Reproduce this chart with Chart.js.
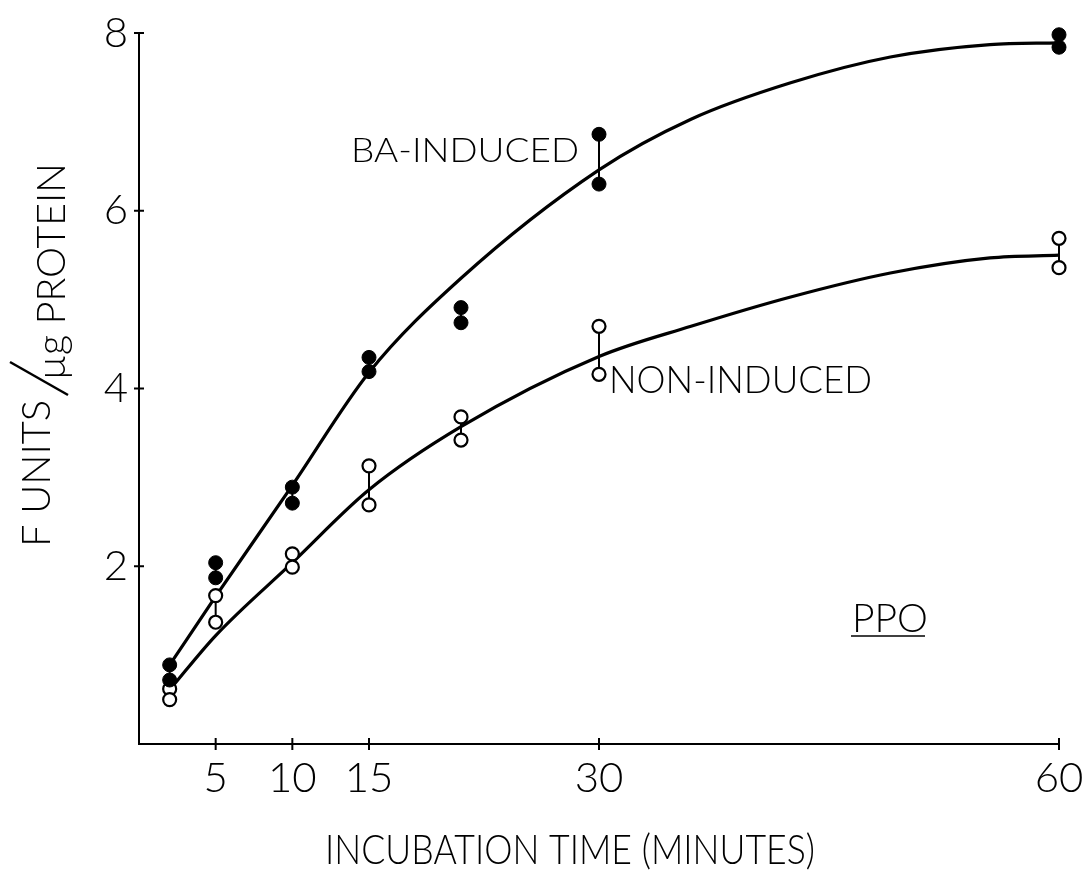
<!DOCTYPE html>
<html>
<head>
<meta charset="utf-8">
<title>PPO activity vs incubation time</title>
<script src="https://cdn.jsdelivr.net/npm/chart.js@4.4.0/dist/chart.umd.min.js"></script>
<style>
  html, body { margin: 0; padding: 0; background: #fff; }
  canvas { display: block; }
</style>
</head>
<body>
<canvas id="c" width="1092" height="877"></canvas>
<script>
// Incubation times (minutes); two replicate readings at each time
const times = [2, 5, 10, 15, 21, 30, 60];
const baHigh  = [0.89, 2.04, 2.89, 4.35, 4.91, 6.86, 7.98];
const baLow   = [0.72, 1.87, 2.71, 4.19, 4.74, 6.30, 7.84];
const nonHigh = [0.62, 1.67, 2.14, 3.13, 3.68, 4.70, 5.69];
const nonLow  = [0.50, 1.37, 1.99, 2.69, 3.42, 4.16, 5.36];

// Hand-fitted trend curves through the replicate pairs
const curveTimes = [2, 5, 10, 15, 21, 30, 36, 42.5, 49, 55.5, 60];
const baCurve    = [0.89, 1.66, 2.91, 4.18, 5.24, 6.46, 7.03, 7.44, 7.73, 7.87, 7.89];
const nonCurve   = [0.61, 1.22, 2.04, 2.86, 3.57, 4.36, 4.70, 5.03, 5.30, 5.47, 5.50];

// Axis tick labels
const xTicks = [5, 10, 15, 30, 60];
const yTicks = [2, 4, 6, 8];

const FONT = 'Lato, "DejaVu Sans", sans-serif';
const INK = '#000';

function pairs(xs, ys) { return xs.map((x, i) => ({ x: x, y: ys[i] })); }

// Draw a text string squeezed/stretched to a given width (lettering-guide look)
function fitText(ctx, text, x, y, width, size) {
  ctx.save();
  ctx.font = '300 ' + size + 'px ' + FONT;
  const m = ctx.measureText(text).width;
  ctx.translate(x, y);
  ctx.scale(width / m, 1);
  ctx.textAlign = 'left';
  ctx.textBaseline = 'alphabetic';
  ctx.fillStyle = INK;
  ctx.fillText(text, 0, 0);
  ctx.restore();
}

// Vertical bars joining each replicate pair, drawn under the markers
const replicateBars = {
  id: 'replicateBars',
  beforeDatasetsDraw(chart) {
    const { ctx, scales: { x, y } } = chart;
    ctx.save();
    ctx.strokeStyle = INK;
    ctx.lineWidth = 2;
    [[baHigh, baLow], [nonHigh, nonLow]].forEach(([hi, lo]) => {
      times.forEach((t, i) => {
        const px = x.getPixelForValue(t);
        ctx.beginPath();
        ctx.moveTo(px, y.getPixelForValue(hi[i]));
        ctx.lineTo(px, y.getPixelForValue(lo[i]));
        ctx.stroke();
      });
    });
    ctx.restore();
  }
};

// Cross-style tick marks, axis titles and in-plot labels
const decorations = {
  id: 'decorations',
  afterDraw(chart) {
    const { ctx, chartArea: a, scales: { x, y } } = chart;
    ctx.save();
    ctx.strokeStyle = INK;
    ctx.lineWidth = 2;
    yTicks.forEach(v => {
      const py = y.getPixelForValue(v);
      ctx.beginPath(); ctx.moveTo(a.left - 5, py); ctx.lineTo(a.left + 5, py); ctx.stroke();
    });
    xTicks.forEach(v => {
      const px = x.getPixelForValue(v);
      ctx.beginPath(); ctx.moveTo(px, a.bottom - 6); ctx.lineTo(px, a.bottom + 6); ctx.stroke();
    });
    ctx.restore();

    // x-axis title
    fitText(ctx, 'INCUBATION TIME (MINUTES)', 325, 864, 490, 41);

    // y-axis title, written as a fraction: F UNITS / µg PROTEIN
    ctx.save();
    ctx.translate(50, 547);
    ctx.rotate(-Math.PI / 2);
    fitText(ctx, 'F UNITS', 0, 0, 147, 39);
    ctx.strokeStyle = INK;
    ctx.lineWidth = 2.5;
    ctx.beginPath(); ctx.moveTo(152, 18); ctx.lineTo(185, -40); ctx.stroke();
    fitText(ctx, 'µg PROTEIN', 167, 15, 217, 39);
    ctx.restore();

    // Series labels
    const x30 = x.getPixelForValue(30);
    fitText(ctx, 'BA-INDUCED', x30 - 248, 162, 228, 33);
    fitText(ctx, 'NON-INDUCED', x30 + 10, 393, 263, 38);

    // Enzyme label, underlined
    fitText(ctx, 'PPO', 852, 632, 76, 40);
    ctx.save();
    ctx.strokeStyle = INK;
    ctx.lineWidth = 1.5;
    ctx.beginPath(); ctx.moveTo(851, 636); ctx.lineTo(925, 636); ctx.stroke();
    ctx.restore();
  }
};

const tickFont = { family: FONT, size: 42, weight: 300 };

new Chart(document.getElementById('c'), {
  type: 'scatter',
  data: {
    datasets: [
      {
        label: 'BA-INDUCED',
        data: pairs(times, baHigh).concat(pairs(times, baLow)),
        pointRadius: 7,
        pointBackgroundColor: INK,
        pointBorderColor: INK,
        pointBorderWidth: 1,
        showLine: false,
        clip: false,
        order: 0
      },
      {
        label: 'NON-INDUCED',
        data: pairs(times, nonHigh).concat(pairs(times, nonLow)),
        pointRadius: 6.5,
        pointBackgroundColor: '#fff',
        pointBorderColor: INK,
        pointBorderWidth: 2.2,
        showLine: false,
        clip: false,
        order: 0
      },
      {
        label: 'BA-INDUCED curve',
        data: pairs(curveTimes, baCurve),
        showLine: true,
        borderColor: INK,
        borderWidth: 3.2,
        pointRadius: 0,
        cubicInterpolationMode: 'monotone',
        clip: false,
        order: 1
      },
      {
        label: 'NON-INDUCED curve',
        data: pairs(curveTimes, nonCurve),
        showLine: true,
        borderColor: INK,
        borderWidth: 3.2,
        pointRadius: 0,
        cubicInterpolationMode: 'monotone',
        clip: false,
        order: 1
      }
    ]
  },
  options: {
    responsive: false,
    animation: false,
    layout: { padding: { top: 33, right: 33, left: 0, bottom: 0 } },
    plugins: { legend: { display: false }, tooltip: { enabled: false } },
    scales: {
      x: {
        type: 'linear',
        min: 0,
        max: 60,
        afterBuildTicks: s => { s.ticks = xTicks.map(v => ({ value: v })); },
        afterFit: s => { s.height = 133; },
        grid: { display: false },
        border: { display: true, color: INK, width: 2 },
        ticks: { color: INK, font: tickFont, padding: 1, maxRotation: 0, autoSkip: false }
      },
      y: {
        type: 'linear',
        min: 0,
        max: 8,
        afterBuildTicks: s => { s.ticks = yTicks.map(v => ({ value: v })); },
        afterFit: s => { s.width = 139; },
        grid: { display: false },
        border: { display: true, color: INK, width: 2 },
        ticks: { color: INK, font: tickFont, padding: 3 }
      }
    }
  },
  plugins: [replicateBars, decorations]
});
</script>
</body>
</html>
